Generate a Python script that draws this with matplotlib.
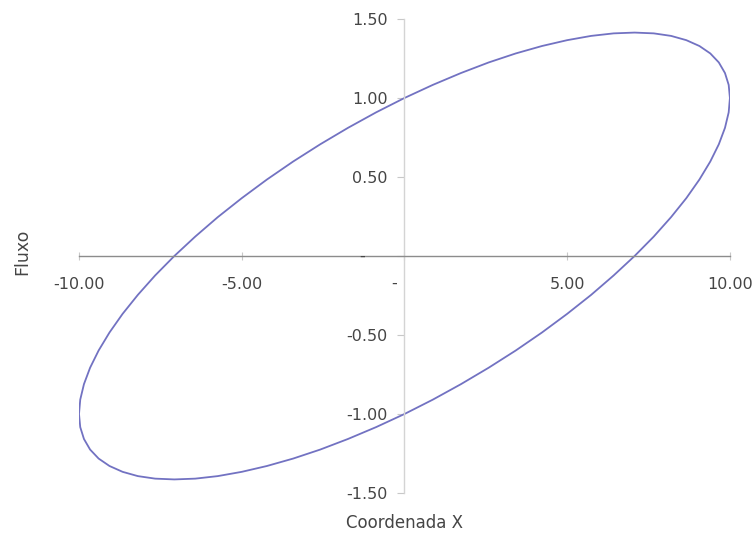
import matplotlib
matplotlib.use("Agg")
import matplotlib.pyplot as plt
from matplotlib.ticker import FuncFormatter

plt.rcParams["font.family"] = ["DejaVu Sans"]
plt.rcParams["axes.unicode_minus"] = False

# Phase-space trajectory: coordinate X vs. flux
coord_x = [10.000, 9.962, 9.848, 9.659, 9.397, 9.063, 8.660, 8.192, 7.660,
           7.071, 6.428, 5.736, 5.000, 4.226, 3.420, 2.588, 1.736, 0.872,
           0.000, -0.872, -1.736, -2.588, -3.420, -4.226, -5.000, -5.736,
           -6.428, -7.071, -7.660, -8.192, -8.660, -9.063, -9.397, -9.659,
           -9.848, -9.962, -10.000, -9.962, -9.848, -9.659, -9.397, -9.063,
           -8.660, -8.192, -7.660, -7.071, -6.428, -5.736, -5.000, -4.226,
           -3.420, -2.588, -1.736, -0.872, 0.000, 0.872, 1.736, 2.588,
           3.420, 4.226, 5.000, 5.736, 6.428, 7.071, 7.660, 8.192, 8.660,
           9.063, 9.397, 9.659, 9.848, 9.962, 10.000]
fluxo = [1.000, 1.083, 1.158, 1.225, 1.282, 1.329, 1.366, 1.393, 1.409,
         1.414, 1.409, 1.393, 1.366, 1.329, 1.282, 1.225, 1.158, 1.083,
         1.000, 0.909, 0.811, 0.707, 0.598, 0.484, 0.366, 0.246,
         0.123, 0.000, -0.123, -0.246, -0.366, -0.484, -0.598, -0.707,
         -0.811, -0.909, -1.000, -1.083, -1.158, -1.225, -1.282, -1.329,
         -1.366, -1.393, -1.409, -1.414, -1.409, -1.393, -1.366, -1.329,
         -1.282, -1.225, -1.158, -1.083, -1.000, -0.909, -0.811, -0.707,
         -0.598, -0.484, -0.366, -0.246, -0.123, 0.000, 0.123, 0.246, 0.366,
         0.484, 0.598, 0.707, 0.811, 0.909, 1.000]

x_ticks = [-10.0, -5.0, 0.0, 5.0, 10.0]
y_ticks = [-1.5, -1.0, -0.5, 0.0, 0.5, 1.0, 1.5]

fig = plt.figure(figsize=(7.56, 5.41), dpi=100)
ax = fig.add_axes([0.1045, 0.0887, 0.861, 0.8762])

ax.plot(coord_x, fluxo, color="#7272c2", linewidth=1.3,
        solid_joinstyle="round")

ax.set_xlim(-10, 10)
ax.set_ylim(-1.5, 1.5)

# Axes cross at the origin
for side in ("top", "right"):
    ax.spines[side].set_visible(False)
ax.spines["left"].set_position(("data", 0))
ax.spines["bottom"].set_position(("data", 0))
ax.spines["left"].set_color("#d4d4d4")
ax.spines["bottom"].set_color("#8c8c8c")
ax.spines["left"].set_linewidth(1.0)
ax.spines["bottom"].set_linewidth(1.0)

ax.set_xticks(x_ticks)
ax.set_yticks(y_ticks)

fmt = FuncFormatter(lambda v, pos: "" if abs(v) < 1e-9 else f"{v:.2f}")
ax.xaxis.set_major_formatter(fmt)
ax.yaxis.set_major_formatter(fmt)

ax.tick_params(axis="x", direction="inout", length=6, width=0.8,
               color="#c8c8c8", pad=12, labelsize=11.5, labelcolor="#454545")
ax.tick_params(axis="y", direction="out", length=5, width=0.8,
               color="#c8c8c8", pad=7, labelsize=11.5, labelcolor="#454545")

# Zero values shown as dashes
ax.annotate("-", xy=(0, 0), xytext=(-42, 0), textcoords="offset pixels",
            ha="center", va="center", fontsize=11.5, color="#454545")
ax.annotate("-", xy=(0, 0), xytext=(-10, -27), textcoords="offset pixels",
            ha="center", va="center", fontsize=11.5, color="#454545")

ax.set_xlabel("Coordenada X", fontsize=12, color="#454545")
ax.set_ylabel("Fluxo", fontsize=12.5, color="#454545")
ax.xaxis.set_label_coords(0.5, -0.045)
ax.yaxis.set_label_coords(-0.074, 0.508)

fig.savefig("out.png", dpi=100)
